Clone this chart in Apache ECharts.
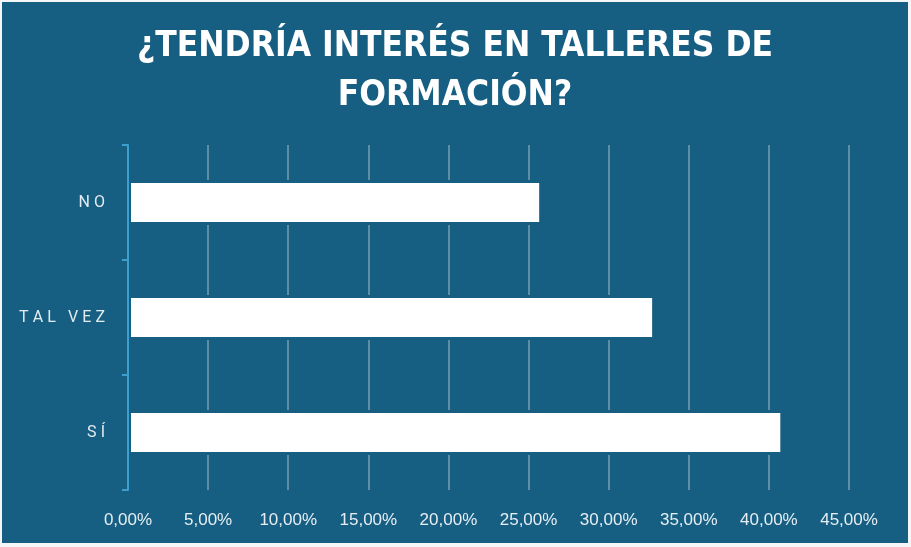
<!DOCTYPE html>
<html>
<head>
<meta charset="utf-8">
<script src="https://cdn.jsdelivr.net/npm/echarts@6/dist/echarts.min.js"></script>
<style>
  html, body { margin: 0; padding: 0; background: #f4f6f8; }
  #chart { position: absolute; left: 2px; top: 2px; width: 906px; height: 541px; }
</style>
</head>
<body>
<div id="chart"></div>
<script>
// categories listed bottom to top, as the category axis draws them
const categories = ["SÍ", "TAL VEZ", "NO"];
const values = [40.9, 32.9, 25.85];
const tickValues = [0, 5, 10, 15, 20, 25, 30, 35, 40, 45];

const bg = "#165f82";
const chart = echarts.init(document.getElementById("chart"));

chart.setOption({
    backgroundColor: bg,
    title: {
        text: "¿TENDRÍA INTERÉS EN TALLERES DE\nFORMACIÓN?",
        left: "center",
        top: 15,
        textStyle: {
            color: "#ffffff",
            fontFamily: "'DejaVu Sans Condensed', 'DejaVu Sans', sans-serif",
            fontWeight: "bold",
            fontSize: 35,
            lineHeight: 49,
        },
    },
    grid: {
        left: 126,
        right: 59,
        top: 143,
        bottom: 53,
    },
    xAxis: {
        type: "value",
        min: tickValues[0],
        max: tickValues[tickValues.length - 1],
        interval: 5,
        axisLine: { show: false },
        axisTick: { show: false },
        splitLine: {
            lineStyle: { color: "rgba(255,255,255,0.3)", width: 2 },
        },
        axisLabel: {
            color: "#e6eef3",
            fontFamily: "Liberation Sans",
            fontSize: 17,
            margin: 22,
            formatter: (v) => v.toFixed(2).replace(".", ",") + "%",
        },
    },
    yAxis: {
        type: "category",
        data: categories,
        z: 5,
        axisLine: { show: true, lineStyle: { color: "#3d9fd0", width: 2 } },
        axisTick: {
            show: true,
            inside: false,
            length: 6,
            lineStyle: { color: "#3d9fd0", width: 2 },
        },
        axisLabel: {
            color: "#e3ebf0",
            fontFamily: "Roboto",
            fontSize: 16,
            margin: 23,
            formatter: (v) => v.split("").join("\u2005"),
        },
    },
    series: [
        {
            type: "bar",
            data: values,
            barWidth: 45,
            itemStyle: {
                color: "#ffffff",
                borderColor: bg,
                borderWidth: 3,
            },
            silent: true,
        },
    ],
});
</script>
</body>
</html>
